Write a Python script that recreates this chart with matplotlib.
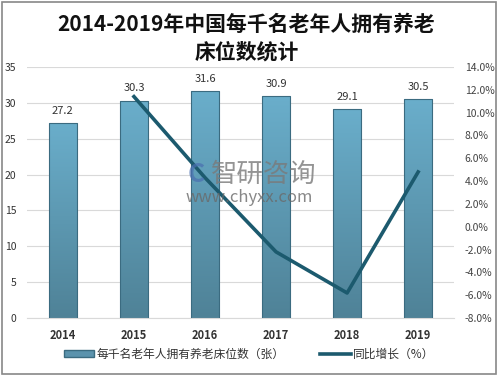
import matplotlib
matplotlib.use('Agg')
import matplotlib.pyplot as plt
import numpy as np
from matplotlib.patches import Rectangle
from matplotlib.lines import Line2D
from matplotlib.colors import LinearSegmentedColormap

plt.rcParams['font.family'] = ['Noto Sans CJK SC', 'DejaVu Sans']

# data
years = ['2014', '2015', '2016', '2017', '2018', '2019']
beds = [27.2, 30.3, 31.6, 30.9, 29.1, 30.5]
growth_years = ['2015', '2016', '2017', '2018', '2019']
growth = [11.4, 4.3, -2.2, -5.8, 4.8]

fig = plt.figure(figsize=(4.98, 3.76), dpi=100)
ax = fig.add_axes([0.055, 0.154, 0.856, 0.668])
ax2 = ax.twinx()

x = np.arange(len(years))
bars = ax.bar(x, beds, width=0.4, color='none', edgecolor='#3b6b80', linewidth=0.8, zorder=3)

# gradient fill for each bar
grad = np.linspace(0, 1, 256).reshape(-1, 1)
cmap = LinearSegmentedColormap.from_list('b', ['#4f8297', '#6aaecb'])
for b in bars:
    bx, by = b.get_x(), b.get_y()
    w, h = b.get_width(), b.get_height()
    im = ax.imshow(grad, extent=[bx, bx + w, by, by + h], origin='lower',
                   cmap=cmap, aspect='auto', zorder=2)
    im.set_clip_path(b)

for xi, v in zip(x, beds):
    ax.text(xi, v + 1.0, '%.1f' % v, ha='center', va='bottom', fontsize=8, color='#333333')

ax.set_xlim(-0.5, len(years) - 0.5)
ax.set_ylim(0, 35)
ax.set_yticks(range(0, 36, 5))
ax.set_xticks(x)
ax.set_xticklabels(years, fontweight='bold', fontsize=8, color='#333333')
ax.tick_params(axis='y', labelsize=7.5, colors='#333333', length=0, pad=8)
ax.tick_params(axis='x', length=0, pad=8)
ax.grid(axis='y', color='#d9d9d9', linewidth=0.8, zorder=0)
ax.set_axisbelow(True)
for s in ax.spines.values():
    s.set_visible(False)
ax.spines['bottom'].set_visible(True)
ax.spines['bottom'].set_color('#d9d9d9')

gx = [years.index(y) for y in growth_years]
ax2.plot(gx, growth, color='#1c5a6e', linewidth=2.6, zorder=4)
ax2.set_ylim(-8, 14)
ax2.set_yticks(range(-8, 15, 2))
ax2.set_yticklabels(['%.1f%%' % v for v in range(-8, 15, 2)])
ax2.tick_params(axis='y', labelsize=7.5, colors='#444444', length=0, pad=8)
for s in ax2.spines.values():
    s.set_visible(False)

ax.set_zorder(1)
ax2.set_zorder(2)
ax2.patch.set_visible(False)

fig.text(0.495, 0.935, '2014-2019年中国每千名老年人拥有养老', ha='center', va='center',
         fontsize=15, fontweight='bold', color='#111111')
fig.text(0.495, 0.862, '床位数统计', ha='center', va='center',
         fontsize=15, fontweight='bold', color='#111111')

# watermark
fig.text(0.53, 0.535, '智研咨询', ha='center', va='center', fontsize=19, color='#7a7a7a', alpha=0.8, zorder=10)
fig.text(0.395, 0.535, 'C', ha='center', va='center', fontsize=19, fontweight='bold',
         color='#4a6fb0', alpha=0.7, zorder=10)
fig.text(0.50, 0.475, 'www.chyxx.com', ha='center', va='center', fontsize=12, color='#6a6a6a', alpha=0.8, zorder=10)

# legend
bar_proxy = Rectangle((0, 0), 1, 1, facecolor='#5b93ad', edgecolor='#3b6b80')
line_proxy = Line2D([], [], color='#1c5a6e', linewidth=2.6)
fig.legend(handles=[bar_proxy, line_proxy], labels=['每千名老年人拥有养老床位数（张）', '同比增长（%）'],
           loc='center', bbox_to_anchor=(0.5, 0.058), ncol=2, frameon=False, fontsize=8.5,
           handlelength=2.6, handleheight=0.6, columnspacing=3, handletextpad=0.2, labelcolor='#333333')

fig.patches.append(Rectangle((0.004, 0.004), 0.992, 0.992, transform=fig.transFigure,
                             fill=False, edgecolor='#888888', linewidth=1.2))

fig.savefig('out.png', dpi=100)
